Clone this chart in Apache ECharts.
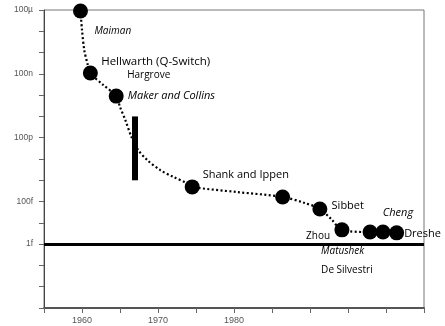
<!DOCTYPE html>
<html>
<head>
<meta charset="utf-8">
<script src="https://cdn.jsdelivr.net/npm/echarts@6/dist/echarts.min.js"></script>
<style>
  html, body { margin: 0; padding: 0; background: #fff; }
  #chart { width: 445px; height: 326px; }
</style>
</head>
<body>
<div id="chart"></div>
<script>
// Shortest optical pulse duration (seconds) achieved over the years.
const pointYears  = [1959.8, 1961.1, 1964.5, 1974.5, 1986.4, 1991.3, 1994.2, 1997.9, 1999.6, 2001.4];
const pointValues = [9e-5, 1.1e-7, 9e-9, 4.9e-13, 1.65e-13, 4.5e-14, 4.7e-15, 3.7e-15, 3.7e-15, 3.4e-15];

// Dotted trend curve through the milestones.
const trendYears  = [1959.8, 1960.0, 1960.3, 1960.7, 1961.1, 1962.8, 1964.5, 1965.0, 1965.7, 1966.5,
                     1967.4, 1968.6, 1970.3, 1972.0, 1973.8, 1974.5, 1980.4, 1986.4, 1989.3, 1991.3,
                     1992.8, 1994.2, 1997.9, 1999.6, 2001.4];
const trendValues = [9e-5, 1.15e-5, 1.3e-6, 3.2e-7, 1.1e-7, 3e-8, 9e-9, 2.8e-9, 6.8e-10, 1.1e-10,
                     2.6e-11, 8.9e-12, 3e-12, 1.45e-12, 7.4e-13, 4.9e-13, 2.8e-13, 1.65e-13, 8.6e-14, 4.5e-14,
                     1.5e-14, 4.7e-15, 3.7e-15, 3.7e-15, 3.4e-15];

// Mode-locking range bar and the 1 fs reference level.
const rangeYear = 1967;
const rangeValues = [1e-9, 1e-12];
const femtoLevel = 1e-15;

// Milestone names and the milestone each one belongs to.
const names      = ['Maiman', 'Hellwarth (Q-Switch)', 'Hargrove', 'Maker and Collins', 'Shank and Ippen',
                    'Sibbet', 'Zhou', 'Cheng', 'Dreshe', 'Matushek', 'De Silvestri'];
const nameAnchor = [0, 1, 1, 2, 3, 5, 6, 8, 9, 6, 6];

// Axis tick labels by decade exponent.
const yTickLabels = { '-4': '100\u00b5', '-7': '100n', '-10': '100p', '-13': '100f', '-15': '1f' };
const xTickLabels = [1960, 1970, 1980];

// Label placement and look (offset from the milestone, font size, style).
const nameStyle = [
  { off: [14.5, 21],   size: 10,   style: 'italic' },
  { off: [11.3, -11],  size: 11.5, style: 'normal' },
  { off: [37.3, 3],    size: 10,   style: 'normal' },
  { off: [12, 0.7],    size: 11,   style: 'italic' },
  { off: [11, -11.3],  size: 11,   style: 'normal' },
  { off: [12.2, -2.3], size: 11,   style: 'normal' },
  { off: [-35.3, 7],   size: 10,   style: 'normal' },
  { off: [0.3, -19],   size: 11,   style: 'italic' },
  { off: [8, 2],       size: 11,   style: 'normal' },
  { off: [-20.3, 22],  size: 10,   style: 'italic' },
  { off: [-20.3, 40.5],size: 10,   style: 'normal' }
];

const labelFont = '"Open Sans", "DejaVu Sans", sans-serif';
const axisFont = '"Liberation Sans", Arial, sans-serif';

const chart = echarts.init(document.getElementById('chart'), null, { renderer: 'canvas' });

const nameData = names.map((n, i) => {
  const k = nameAnchor[i];
  const s = nameStyle[i];
  return {
    value: [pointYears[k], pointValues[k]],
    label: {
      show: true,
      formatter: n,
      position: s.off,
      align: 'left',
      verticalAlign: 'middle',
      fontSize: s.size,
      fontStyle: s.style,
      fontFamily: labelFont,
      color: '#000'
    }
  };
});

chart.setOption({
  animation: false,
  grid: {
    left: 44, right: 21, top: 10, bottom: 18,
    show: true, borderColor: '#777', borderWidth: 1, backgroundColor: 'transparent'
  },
  xAxis: {
    type: 'value',
    min: 1955, max: 2005, interval: 5,
    axisLine: { show: true, onZero: false, lineStyle: { color: '#555', width: 2 } },
    axisTick: { show: true, length: 5, lineStyle: { color: '#666' } },
    splitLine: { show: false },
    axisLabel: {
      margin: 8, fontSize: 9, color: '#555', fontFamily: axisFont,
      formatter: v => (xTickLabels.indexOf(Math.round(v)) >= 0 ? String(Math.round(v)) : '')
    }
  },
  yAxis: {
    type: 'log',
    logBase: 10,
    min: 1e-18, max: 1e-4, interval: 1,
    axisLine: { show: true, lineStyle: { color: '#444', width: 1 } },
    axisTick: { show: true, length: 5, lineStyle: { color: '#666' } },
    splitLine: { show: false },
    minorTick: { show: false },
    axisLabel: {
      margin: 11, fontSize: 8.5, color: '#555', fontFamily: axisFont,
      formatter: v => yTickLabels[String(Math.round(Math.log10(v)))] || ''
    }
  },
  series: [
    {
      type: 'line',
      data: trendYears.map((y, i) => [y, trendValues[i]]),
      smooth: 0.3,
      symbol: 'none',
      lineStyle: { color: '#000', width: 2.2, type: [2, 2.4], cap: 'butt' },
      z: 2,
      markLine: {
        silent: true,
        symbol: ['none', 'none'],
        label: { show: false },
        data: [
          [{ coord: [1955, femtoLevel], lineStyle: { width: 3, color: '#000', type: 'solid' } },
           { coord: [2005, femtoLevel] }],
          [{ coord: [rangeYear, rangeValues[0]], lineStyle: { width: 6, color: '#000', type: 'solid' } },
           { coord: [rangeYear, rangeValues[1]] }]
        ],
        lineStyle: { color: '#000', type: 'solid' }
      }
    },
    {
      type: 'scatter',
      data: pointYears.map((y, i) => [y, pointValues[i]]),
      symbol: 'circle',
      symbolSize: 15,
      itemStyle: { color: '#000', opacity: 1 },
      z: 3
    },
    {
      type: 'scatter',
      data: nameData,
      symbolSize: 1,
      itemStyle: { color: 'rgba(0,0,0,0)', opacity: 1 },
      labelLayout: { hideOverlap: false },
      z: 4
    }
  ]
});
</script>
</body>
</html>
